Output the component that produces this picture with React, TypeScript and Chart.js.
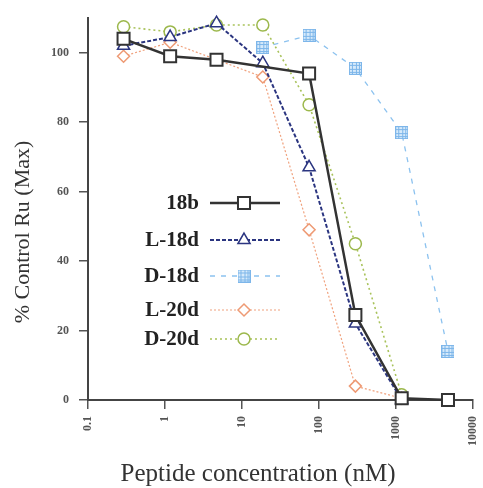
import React, { useEffect, useRef } from 'react';
import { Chart, registerables } from 'chart.js';
import { drawPoint } from 'chart.js/helpers';

Chart.register(...registerables);

// ---- data ----
const seriesNames = ['18b', 'L-18d', 'D-18d', 'L-20d', 'D-20d'];

const conc18b = [0.29, 1.17, 4.69, 75, 300, 1200, 4800];
const val18b = [104, 99, 98, 94, 24.5, 0.5, 0];

const concL18d = [0.29, 1.17, 4.69, 18.75, 75, 300, 1200];
const valL18d = [102, 104.5, 108.5, 97, 67, 22, 0];

const concD18d = [18.75, 75, 300, 1200, 4800];
const valD18d = [101.5, 105, 95.5, 77, 14];

const concL20d = [0.29, 1.17, 18.75, 75, 300, 1200];
const valL20d = [99, 103, 93, 49, 4, 0.5];

const concD20d = [0.29, 1.17, 4.69, 18.75, 75, 300, 1200];
const valD20d = [107.5, 106, 108, 108, 85, 45, 1.5];

const xTickValues = [0.1, 1, 10, 100, 1000, 10000];
const xTickLabels = ['0.1', '1', '10', '100', '1000', '10000'];
const yTickValues = [0, 20, 40, 60, 80, 100];

const xTitle = 'Peptide concentration (nM)';
const yTitle = '% Control Ru (Max)';

const SERIF = '"Liberation Serif", "DejaVu Serif", serif';

function makeGridSquare(fill: string, stroke: string, size = 13): HTMLCanvasElement {
  const c = document.createElement('canvas');
  c.width = size;
  c.height = size;
  const g = c.getContext('2d')!;
  g.fillStyle = fill;
  g.fillRect(0, 0, size, size);
  g.strokeStyle = stroke;
  g.lineWidth = 1;
  g.strokeRect(0.5, 0.5, size - 1, size - 1);
  for (let i = 1; i < 4; i++) {
    const p = Math.round((size * i) / 4) + 0.5;
    g.beginPath();
    g.moveTo(p, 0);
    g.lineTo(p, size);
    g.moveTo(0, p);
    g.lineTo(size, p);
    g.stroke();
  }
  return c;
}

function pts(xs: number[], ys: number[]) {
  return xs.map((x, i) => ({ x, y: ys[i] }));
}

const legendPlugin = {
  id: 'insideLegend',
  afterDatasetsDraw(chart: any) {
    const ctx = chart.ctx;
    const rows = [203, 240, 276, 310, 339];
    chart.data.datasets.forEach((ds: any, i: number) => {
      const y = rows[i];
      ctx.save();
      ctx.font = `bold 21px ${SERIF}`;
      ctx.fillStyle = '#222';
      ctx.textAlign = 'right';
      ctx.textBaseline = 'middle';
      ctx.fillText(seriesNames[i], 199, y + 1);
      ctx.strokeStyle = ds.borderColor;
      ctx.lineWidth = ds.borderWidth;
      ctx.setLineDash(ds.borderDash || []);
      ctx.beginPath();
      ctx.moveTo(210, y);
      ctx.lineTo(280, y);
      ctx.stroke();
      ctx.setLineDash([]);
      ctx.fillStyle = '#fff';
      ctx.strokeStyle = ds.pointBorderColor;
      ctx.lineWidth = ds.pointBorderWidth;
      drawPoint(ctx, { pointStyle: ds.pointStyle, radius: ds.pointRadius, borderWidth: ds.pointBorderWidth, rotation: 0 } as any, 244, y);
      ctx.restore();
    });
  },
};

const titlesPlugin = {
  id: 'axisTitles',
  afterDraw(chart: any) {
    const ctx = chart.ctx;
    ctx.save();
    ctx.fillStyle = '#333';
    ctx.textAlign = 'center';
    ctx.textBaseline = 'middle';
    ctx.font = `25px ${SERIF}`;
    ctx.fillText(xTitle, 258, 474);
    ctx.translate(23, 232);
    ctx.rotate(-Math.PI / 2);
    ctx.font = `22px ${SERIF}`;
    ctx.fillText(yTitle, 0, 0);
    ctx.restore();
  },
};

export default function App() {
  const ref = useRef<HTMLCanvasElement | null>(null);

  useEffect(() => {
    document.body.style.margin = '0';
    const gridSq = makeGridSquare('#d6eafb', '#7db6ea', 13);
    const tickFont = { family: SERIF, size: 12, weight: 'bold' as const };
    const chart = new Chart(ref.current!, {
      type: 'line',
      data: {
        datasets: [
          {
            label: seriesNames[0],
            data: pts(conc18b, val18b),
            borderColor: '#333',
            borderWidth: 2.5,
            pointStyle: 'rect',
            pointRadius: 8.5,
            pointBorderWidth: 2,
            pointBorderColor: '#333',
            pointBackgroundColor: '#fff',
          },
          {
            label: seriesNames[1],
            data: pts(concL18d, valL18d),
            borderColor: '#2b3580',
            borderWidth: 2,
            borderDash: [4, 2],
            pointStyle: 'triangle',
            pointRadius: 7,
            pointBorderWidth: 1.5,
            pointBorderColor: '#2b3580',
            pointBackgroundColor: '#fff',
          },
          {
            label: seriesNames[2],
            data: pts(concD18d, valD18d),
            borderColor: '#8cc2ef',
            borderWidth: 1.3,
            borderDash: [5, 6],
            pointStyle: gridSq,
            pointRadius: 7,
            pointBorderWidth: 1,
            pointBorderColor: '#7db6ea',
            pointBackgroundColor: '#d6eafb',
          },
          {
            label: seriesNames[3],
            data: pts(concL20d, valL20d),
            borderColor: '#f0a27e',
            borderWidth: 1.2,
            borderDash: [2, 2],
            pointStyle: 'rectRot',
            pointRadius: 6,
            pointBorderWidth: 1.5,
            pointBorderColor: '#ee9a74',
            pointBackgroundColor: '#fff',
          },
          {
            label: seriesNames[4],
            data: pts(concD20d, valD20d),
            borderColor: '#a8c25a',
            borderWidth: 1.6,
            borderDash: [2, 3],
            pointStyle: 'circle',
            pointRadius: 6,
            pointBorderWidth: 1.5,
            pointBorderColor: '#9cb84c',
            pointBackgroundColor: '#fff',
          },
        ] as any,
      },
      options: {
        animation: false,
        responsive: false,
        devicePixelRatio: 1,
        clip: false as any,
        layout: { padding: { top: 18, right: 5, left: 0, bottom: 0 } },
        elements: { line: { tension: 0 } },
        plugins: { legend: { display: false }, tooltip: { enabled: false } },
        scales: {
          x: {
            type: 'logarithmic',
            min: 0.1,
            max: 10000,
            afterBuildTicks: (s: any) => {
              s.ticks = xTickValues.map((v) => ({ value: v }));
            },
            afterFit: (s: any) => {
              s.height = 88;
              s.paddingLeft = 0;
              s.paddingRight = 0;
            },
            ticks: {
              autoSkip: false,
              maxRotation: 90,
              minRotation: 90,
              padding: 7,
              color: '#555',
              font: tickFont,
              callback: (_v: any, i: number) => xTickLabels[i],
            },
            grid: { drawOnChartArea: false, tickLength: 9, color: '#555', lineWidth: 1.5 },
            border: { display: true, color: '#444', width: 2 },
          },
          y: {
            type: 'linear',
            min: 0,
            max: 110,
            afterBuildTicks: (s: any) => {
              s.ticks = yTickValues.map((v) => ({ value: v }));
            },
            afterFit: (s: any) => {
              s.width = 88;
              s.paddingTop = 0;
              s.paddingBottom = 0;
            },
            ticks: {
              padding: 10,
              color: '#555',
              font: tickFont,
              callback: (v: any) => String(v),
            },
            grid: { drawOnChartArea: false, tickLength: 9, color: '#555', lineWidth: 1.5 },
            border: { display: true, color: '#444', width: 2 },
          },
        },
      } as any,
      plugins: [legendPlugin, titlesPlugin],
    });
    return () => chart.destroy();
  }, []);

  return (
    <div style={{ width: 483, height: 488 }}>
      <canvas ref={ref} width={483} height={488} style={{ display: 'block' }} />
    </div>
  );
}
